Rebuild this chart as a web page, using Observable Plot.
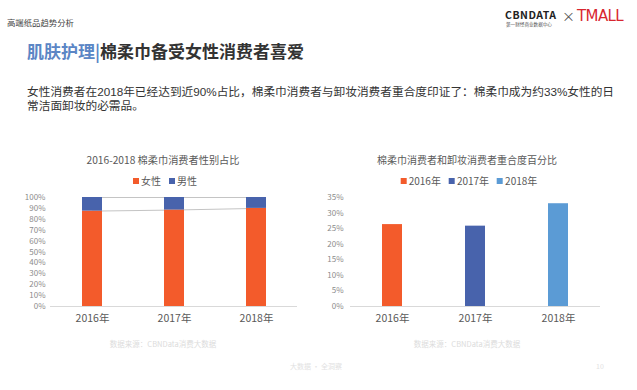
<!DOCTYPE html>
<html>
<head>
<meta charset="utf-8">
<script src="https://cdn.jsdelivr.net/npm/d3@7"></script>
<script src="https://cdn.jsdelivr.net/npm/@observablehq/plot@0.6"></script>
<style>
  html, body { margin:0; padding:0; background:#fff; }
  body { width:637px; height:390px; position:relative; overflow:hidden;
         font-family:"Noto Sans CJK SC","Noto Sans",sans-serif; }
  .abs { position:absolute; white-space:nowrap; }
  .legend { display:flex; align-items:center; font-size:10px; color:#595959; transform:translateX(-50%); }
  .legend span.sw { display:inline-block; width:6px; height:6px; margin-right:2px; }
  .legend span.it { margin-right:8px; display:flex; align-items:center; }
  .chart { position:absolute; }
</style>
</head>
<body>
<div id="root"></div>
<script>
// ---- data ----
const years = ["2016年", "2017年", "2018年"];
const sexes = ["女性", "男性"];
const femaleShare = [87.5, 88.5, 90.0];
const maleShare = [12.5, 11.5, 10.0];
const overlapShare = [26.3, 25.8, 33.0];
const leftTicks = [0, 10, 20, 30, 40, 50, 60, 70, 80, 90, 100];
const rightTicks = [0, 5, 10, 15, 20, 25, 30, 35];

const orange = "#F35B2B";
const navy = "#4863AC";
const lightBlue = "#5B9BD5";
const font = '"Noto Sans CJK SC","Noto Sans",sans-serif';

const root = document.getElementById("root");
function addText(html, style) {
  const d = document.createElement("div");
  d.className = "abs";
  d.innerHTML = html;
  Object.assign(d.style, style);
  root.appendChild(d);
  return d;
}

// header
addText("高端纸品趋势分析", {left:"7px", top:"16px", fontSize:"8.4px", color:"#444"});
addText('<span style="color:#5B86C5">肌肤护理|</span>棉柔巾备受女性消费者喜爱',
  {left:"27px", top:"40px", fontSize:"17px", fontWeight:"bold", color:"#333", lineHeight:"22px"});
addText("女性消费者在2018年已经达到近90%占比，棉柔巾消费者与卸妆消费者重合度印证了：棉柔巾成为约33%女性的日",
  {left:"27px", top:"84.5px", fontSize:"11.7px", color:"#333", lineHeight:"14px", fontFamily:'"Liberation Sans","Noto Sans CJK SC",sans-serif'});
addText("常洁面卸妆的必需品。",
  {left:"27px", top:"99px", fontSize:"11.7px", color:"#333", lineHeight:"14px", fontFamily:'"Liberation Sans","Noto Sans CJK SC",sans-serif'});

// logo
addText('<span style="letter-spacing:0.5px">CBNDATA</span>',
  {left:"505px", top:"8px", fontSize:"10.5px", fontWeight:"bold", color:"#222", lineHeight:"13px"});
addText("第一财经商业数据中心", {left:"506px", top:"21px", fontSize:"4.6px", color:"#555", lineHeight:"6px"});
addText("×", {left:"562px", top:"7px", fontSize:"13px", color:"#555", lineHeight:"18px"});
addText("TMALL", {left:"577px", top:"6px", fontSize:"15px", color:"#D8262F", lineHeight:"20px", fontFamily:'"DejaVu Sans",sans-serif', letterSpacing:"-0.6px"});

// chart titles
addText("2016-2018 棉柔巾消费者性别占比", {left:"163px", top:"153px", fontSize:"10.2px", color:"#595959", transform:"translateX(-50%)", lineHeight:"14px"});
addText("棉柔巾消费者和卸妆消费者重合度百分比", {left:"467px", top:"153px", fontSize:"10px", color:"#595959", transform:"translateX(-50%)", lineHeight:"14px"});

// legends
function legend(items, colors, cx) {
  const d = document.createElement("div");
  d.className = "abs legend";
  Object.assign(d.style, {left: cx + "px", top: "174px", lineHeight:"14px"});
  items.forEach((t, i) => {
    const it = document.createElement("span");
    it.className = "it";
    it.innerHTML = `<span class="sw" style="background:${colors[i]}"></span>${t}`;
    d.appendChild(it);
  });
  d.lastChild.style.marginRight = "0";
  root.appendChild(d);
}
legend(sexes, [orange, navy], 165);
legend(years, [orange, navy, lightBlue], 469);

// left chart
const sexRows = [];
years.forEach((y, i) => {
  sexRows.push({year: y, sex: "女性", value: femaleShare[i]});
  sexRows.push({year: y, sex: "男性", value: maleShare[i]});
});
const femaleTops = years.map((y, i) => ({year: y, v: femaleShare[i]}));
const totalTops = years.map((y, i) => ({year: y, v: femaleShare[i] + maleShare[i]}));

const left = Plot.plot({
  width: 310, height: 150,
  marginTop: 11, marginBottom: 30, marginLeft: 50, marginRight: 13,
  style: {fontFamily: font, background: "transparent", overflow: "visible"},
  x: {domain: years, paddingInner: 0.757, paddingOuter: 0.3785, label: null},
  y: {domain: [0, 100], label: null},
  color: {domain: sexes, range: [orange, navy]},
  marks: [
    Plot.ruleY([0], {stroke: "#d9d9d9", strokeWidth: 1}),
    Plot.lineY(femaleTops, {x: "year", y: "v", stroke: "#c4c4c4", strokeWidth: 1}),
    Plot.lineY(totalTops, {x: "year", y: "v", stroke: "#c4c4c4", strokeWidth: 1}),
    Plot.barY(sexRows, {x: "year", y: "value", fill: "sex"}),
    Plot.axisY({ticks: leftTicks, tickFormat: d => d + "%", tickSize: 0, tickPadding: 5, fontSize: 8, color: "#8c8c8c"}),
    Plot.axisX({tickSize: 0, tickPadding: 8, fontSize: 10.5, color: "#595959"})
  ]
});
left.classList.add("chart");
Object.assign(left.style, {left: "0px", top: "186px"});
root.appendChild(left);

// right chart
const overlapRows = years.map((y, i) => ({year: y, v: overlapShare[i]}));
const right = Plot.plot({
  width: 327, height: 150,
  marginTop: 11, marginBottom: 30, marginLeft: 40, marginRight: 37,
  style: {fontFamily: font, background: "transparent", overflow: "visible"},
  x: {domain: years, paddingInner: 0.754, paddingOuter: 0.377, label: null},
  y: {domain: [0, 35], label: null},
  color: {domain: years, range: [orange, navy, lightBlue]},
  marks: [
    Plot.ruleY([0], {stroke: "#d9d9d9", strokeWidth: 1}),
    Plot.barY(overlapRows, {x: "year", y: "v", fill: "year"}),
    Plot.axisY({ticks: rightTicks, tickFormat: d => d + "%", tickSize: 0, tickPadding: 7, fontSize: 8, color: "#8c8c8c"}),
    Plot.axisX({tickSize: 0, tickPadding: 8, fontSize: 10.5, color: "#595959"})
  ]
});
right.classList.add("chart");
Object.assign(right.style, {left: "310px", top: "186px"});
root.appendChild(right);

// footers
addText("数据来源：CBNData消费大数据", {left:"163px", top:"339px", fontSize:"7.5px", color:"#dcdcdc", transform:"translateX(-50%)", lineHeight:"10px"});
addText("数据来源：CBNData消费大数据", {left:"467px", top:"339px", fontSize:"7.5px", color:"#dcdcdc", transform:"translateX(-50%)", lineHeight:"10px"});
addText("大数据 · 全洞察", {left:"316px", top:"361px", fontSize:"7px", color:"#e2e2e2", transform:"translateX(-50%)", lineHeight:"10px"});
addText("10", {left:"596px", top:"361px", fontSize:"7px", color:"#e2e2e2", lineHeight:"10px"});
</script>
</body>
</html>
